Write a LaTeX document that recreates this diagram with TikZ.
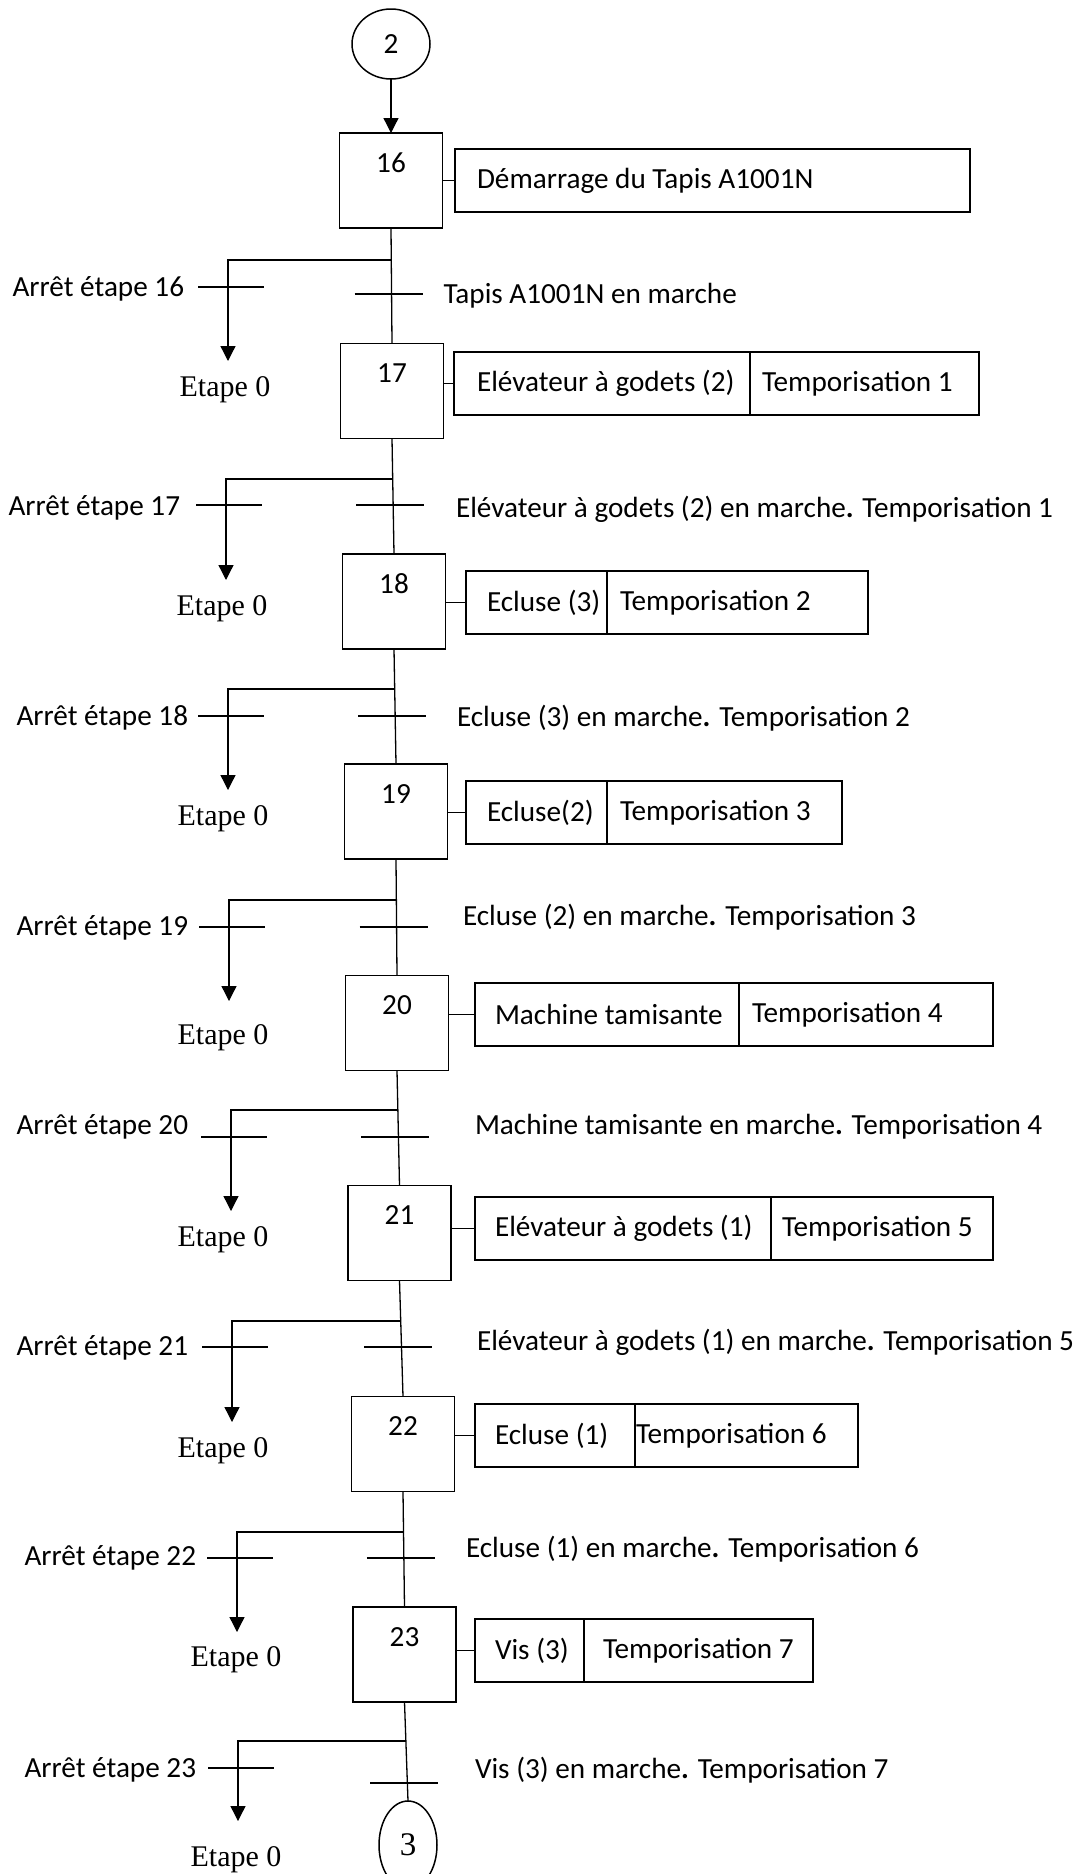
\documentclass[tikz,border=0pt]{standalone}
\usepackage{fontspec}
\setmainfont{Carlito}
\newfontfamily\tms{Liberation Serif}
\usetikzlibrary{arrows.meta,shapes.geometric,calc}

\begin{document}
\begin{tikzpicture}[x=1pt,y=-1pt,
  every node/.style={inner sep=0pt, outer sep=0pt},
  line/.style={line width=1.3pt},
  arr/.style={line width=1.3pt, -{Triangle[width=15pt,length=15pt]}},
  stepbox/.style={draw, line width=1.8pt, minimum width=103pt, minimum height=95pt},
  cell/.style={draw, line width=1.8pt, anchor=north west, minimum height=63pt},
  txt/.style={font=\fontsize{29.2}{35}\selectfont},
  serif/.style={font=\tms\fontsize{30}{36}\selectfont},
  renvoi/.style={draw, ellipse, line width=1.5pt},
]
\fill[white] (0,0) rectangle (1086,1874);
\useasboundingbox (0,0) rectangle (1086,1874);
\clip (0,0) rectangle (1086,1874);

% connection circles
\node[renvoi, txt, minimum width=78pt, minimum height=70pt] (c2) at (391,44) {2};
\node[renvoi, font=\tms\fontsize{33}{38}\selectfont, minimum width=58pt, minimum height=88pt] (c3) at (408,1845) {3};

% steps
\foreach \n/\cx/\cy in {16/391/180.5, 17/392/391, 18/394/601.5, 19/396/811.5,
                        20/397/1023, 21/399.5/1233, 22/403/1444, 23/404.5/1654.5}{
  \node[stepbox] (s\n) at (\cx,\cy) {};
  \node[txt] (n\n) at ([yshift=-30pt]s\n.north) {\n};
}

\draw[arr] (c2.south) -- (s16.north);

% action of step 16 (single cell)
\node[cell, minimum width=515pt] (a16) at (455,149) {};
\node[txt, anchor=west] (t16) at ([xshift=22pt]a16.west) {Démarrage du Tapis A1001N};
\draw[line] (s16.east |- a16.west) -- (a16.west);

% actions of steps 17 to 23 (two cells)
\foreach \n/\l/\t/\d/\r/\oa/\ob/\A/\B in {
  17/454/352/750/979/23/12/{Elévateur à godets (2)}/{Temporisation 1},
  18/466/571/607/868/21/13/{Ecluse (3)}/{Temporisation 2},
  19/466/781/607/842/21/13/{Ecluse(2)}/{Temporisation 3},
  20/475/983/739/993/20/13/{Machine tamisante}/{Temporisation 4},
  21/475/1197/771/993/20/11/{Elévateur à godets (1)}/{Temporisation 5},
  22/475/1404/635/858/20/1/{Ecluse (1)}/{Temporisation 6},
  23/475/1619/584/813/20/19/{Vis (3)}/{Temporisation 7}}{
  \node[cell, minimum width={\d-\l}] (a\n a) at (\l,\t) {};
  \node[cell, minimum width={\r-\d}] (a\n b) at (a\n a.north east) {};
  \node[txt, anchor=west] (ta\n) at ([xshift=\oa pt]a\n a.west) {\A};
  \node[txt, anchor=west] (tb\n) at ([xshift=\ob pt]a\n b.west) {\B};
  \draw[line] (s\n.east |- a\n a.west) -- (a\n a.west);
}

% transitions with their stop branches
\foreach \k/\nx/\by/\lx/\tip/\lb/\rb/\ax/\ay/\ex/\ey/\cx/\cy/\cond in {
  16/s17/260/228/361/287/294/184/289/225/390/443.5/296/{Tapis A1001N en marche},
  17/s18/479/226/580/505/505/180/508/222/609/456/509/{Elévateur à godets (2) en marche\textbf{.} Temporisation 1},
  18/s19/689/228/790/716/716/188/718/223/819/457/718/{Ecluse (3) en marche\textbf{.} Temporisation 2},
  19/s20/900/229/1001/927/927/188/928/223/1038/463/917/{Ecluse (2) en marche\textbf{.} Temporisation 3},
  20/s21/1110/231/1211/1137/1137/188/1127/223/1240/475/1127/{Machine tamisante en marche\textbf{.} Temporisation 4},
  21/s22/1321/232/1422/1347/1347/188/1348/223/1451/477/1342/{Elévateur à godets (1) en marche\textbf{.} Temporisation 5},
  22/s23/1532/237/1632/1558/1558/196/1558/236/1660/466/1549/{Ecluse (1) en marche\textbf{.} Temporisation 6},
  23/c3/1741/238/1821/1768/1783/196/1770/236/1860/475/1770/{Vis (3) en marche\textbf{.} Temporisation 7}}{
  \draw[line] (s\k.south) -- (\nx.north);
  \coordinate (j\k) at (intersection of s\k.south--\nx.north and 0,\by--1000,\by);
  \coordinate (r\k) at (intersection of s\k.south--\nx.north and 0,\rb--1000,\rb);
  \coordinate (p\k) at (\lx,\tip);
  \draw[arr] (j\k) -| (p\k);
  \draw[line] ({\lx-30},\lb) -- ({\lx+36},\lb);
  \draw[line] ([xshift=-37pt]r\k) -- ([xshift=31pt]r\k);
  \node[txt, anchor=east] (ar\k) at (\ax,\ay) {Arrêt étape \k};
  \node[serif] (e\k) at (\ex,\ey) {Etape 0};
  \node[txt, anchor=west] (cd\k) at (\cx,\cy) {\cond};
}
\end{tikzpicture}
\end{document}
